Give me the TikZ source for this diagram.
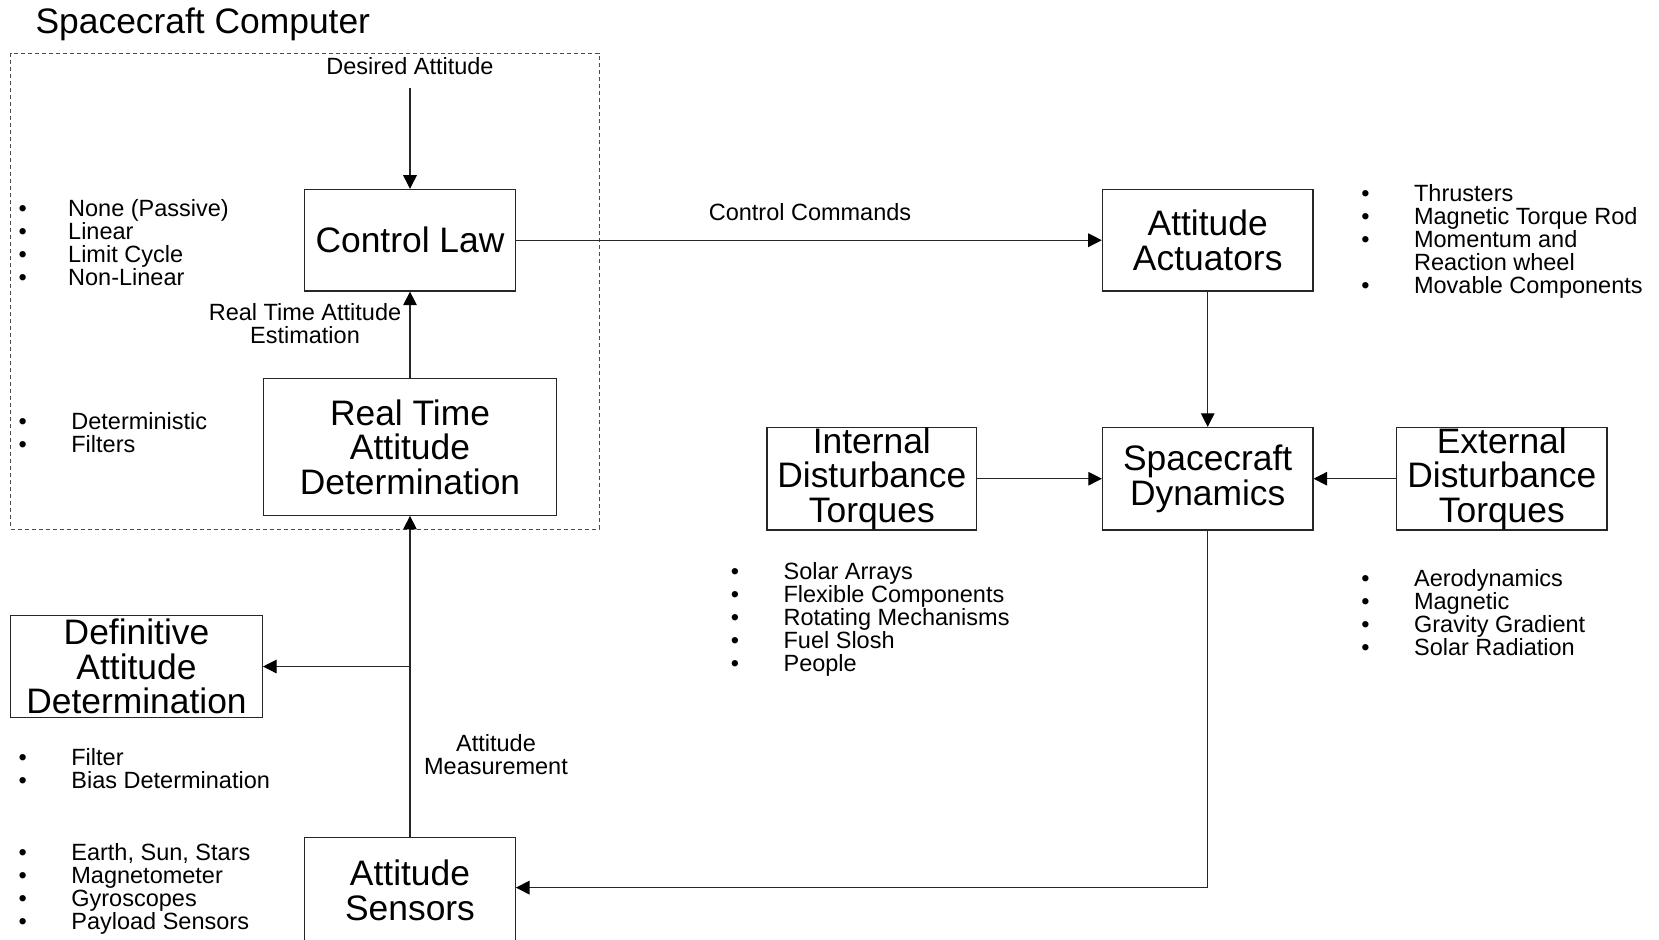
\documentclass[tikz,border=0pt]{standalone}
\usepackage{fontspec}
\setmainfont{Liberation Sans}
\usetikzlibrary{arrows.meta}
\newcommand\blt[1][26.4pt]{\makebox[#1][l]{\textbullet}}

\begin{document}
\begin{tikzpicture}[
    x = 0.5pt, y = -0.5pt,
    line width = 0.6pt, draw = black!85,
    every node/.style = {inner sep = 0pt},
    block/.style = {draw = black!85, align = center, font = \fontsize{17.7}{17.3}\selectfont,
                    minimum width = 105.3pt, minimum height = 50.8pt},
    lbl/.style = {align = center, font = \fontsize{11.75}{11.5}\selectfont},
    blist/.style = {anchor = north west, align = left, font = \fontsize{11.75}{11.5}\selectfont},
    arr/.style = {draw = black!85, -{Triangle[length = 6.8pt, width = 6.8pt, color = black]}}]

\useasboundingbox (0,0) rectangle (1659,939);

\node[anchor = base west, font = \fontsize{17.7}{17.3}\selectfont] (title) at (35,33) {Spacecraft Computer};
\draw[black!70, line width = 0.5pt, dash pattern = on 2pt off 1.5pt] (10.6,53) rectangle (599,529);

\node[block] (cl) at (410,240.2) {Control Law};
\node[block] (aa) at (1207.7,240.2) {Attitude\\Actuators};
\node[block, minimum width = 146.5pt, minimum height = 68.25pt] (rtad) at (410,447) {Real Time\\Attitude\\Determination};
\node[block, minimum width = 104.75pt, minimum height = 51.25pt] (idt) at (871.8,478.7) {Internal\\Disturbance\\Torques};
\node[block, minimum width = 105.25pt, minimum height = 51.25pt] (sd) at (1207.7,478.7) {Spacecraft\\Dynamics};
\node[block, minimum width = 105.25pt, minimum height = 51.25pt] (edt) at (1501.8,478.7) {External\\Disturbance\\Torques};
\node[block, minimum width = 125.9pt, minimum height = 50.75pt] (dad) at (136.5,666.5) {Definitive\\Attitude\\Determination};
\node[block, minimum height = 53pt] (as) at (410,890.5) {Attitude\\Sensors};

\node[lbl] (desired) at (410,65.6) {Desired Attitude};
\node[lbl] (cmd) at (810,211.6) {Control Commands};
\node[lbl] (est) at (305,323.7) {Real Time Attitude\\Estimation};
\node[lbl] (meas) at (496,754.4) {Attitude\\Measurement};

\node[blist] (cl-list) at (18,199) {\blt[24.8pt]None (Passive)\\\blt[24.8pt]Linear\\\blt[24.8pt]Limit Cycle\\\blt[24.8pt]Non-Linear};
\node[blist] (rtad-list) at (18,411.6) {\blt Deterministic\\\blt Filters};
\node[blist] (dad-list) at (18,748) {\blt Filter\\\blt Bias Determination};
\node[blist] (as-list) at (18,843.3) {\blt Earth, Sun, Stars\\\blt Magnetometer\\\blt Gyroscopes\\\blt Payload Sensors};
\node[blist] (aa-list) at (1360.7,184.2) {\blt Thrusters\\\blt Magnetic Torque Rod\\\blt Momentum and\\\hspace*{26.4pt}Reaction wheel\\\blt Movable Components};
\node[blist] (idt-list) at (730.2,561.6) {\blt Solar Arrays\\\blt Flexible Components\\\blt Rotating Mechanisms\\\blt Fuel Slosh\\\blt People};
\node[blist] (edt-list) at (1360.7,569.3) {\blt Aerodynamics\\\blt Magnetic\\\blt Gravity Gradient\\\blt Solar Radiation};

\draw[arr, shorten <= 6.4pt] (desired) -- (cl);
\draw[arr] (cl) -- (aa);
\draw[arr] (rtad) -- (cl);
\draw[arr] (as) -- (rtad);
\draw[arr] (as.north |- dad.east) -- (dad);
\draw[arr] (aa) -- (sd);
\draw[arr] (idt) -- (sd);
\draw[arr] (edt) -- (sd);
\draw[arr] (sd.south) |- (as.east |- 0,887.6);
\end{tikzpicture}
\end{document}
